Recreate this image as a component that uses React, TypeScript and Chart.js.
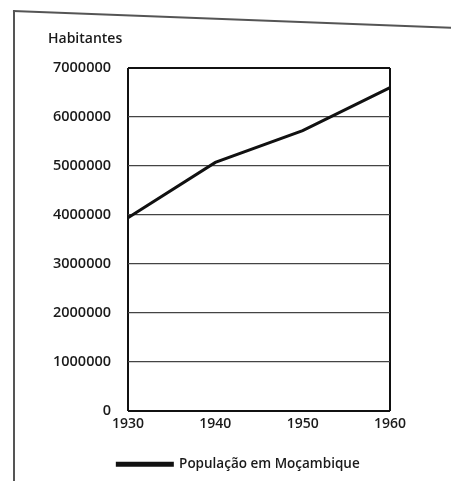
import React, { useEffect, useRef } from "react";
import { Chart, registerables } from "chart.js";

Chart.register(...registerables);

const years = ["1930", "1940", "1950", "1960"];
const population = [3940000, 5070000, 5720000, 6600000];
const yTicks = [0, 1000000, 2000000, 3000000, 4000000, 5000000, 6000000, 7000000];
const seriesLabel = "População em Moçambique";
const yTitle = "Habitantes";

export default function App() {
  const ref = useRef<HTMLCanvasElement>(null);

  useEffect(() => {
    document.body.style.margin = "0";
    const ctx = ref.current!;
    const font = "'Open Sans', sans-serif";
    const chart = new Chart(ctx, {
      type: "line",
      data: {
        labels: years,
        datasets: [
          {
            label: seriesLabel,
            data: population,
            borderColor: "#111",
            backgroundColor: "#111",
            borderWidth: 3,
            pointRadius: 0,
            tension: 0,
            yAxisID: "y",
          },
        ],
      },
      options: {
        animation: false,
        responsive: false,
        maintainAspectRatio: false,
        layout: { padding: { left: 48, right: 22, top: 0, bottom: 0 } },
        plugins: {
          tooltip: { enabled: false },
          title: {
            display: true,
            text: yTitle,
            align: "start",
            color: "#1a1a1a",
            font: { family: font, size: 14, weight: "600" },
            padding: { top: 31, bottom: 20.2 },
          },
          legend: {
            position: "bottom",
            labels: {
              color: "#1a1a1a",
              font: { family: font, size: 13.5, weight: "600" },
              boxWidth: 55,
              boxHeight: 2,
              padding: 12,
            },
          },
        },
        scales: {
          x: {
            offset: false,
            afterFit: (s: any) => {
              s.height = 35;
            },
            grid: {
              drawTicks: false,
              lineWidth: 2,
              color: (c: any) =>
                c.index === 0 || c.index === years.length - 1 ? "#111" : "rgba(0,0,0,0)",
            },
            border: { display: false },
            ticks: {
              color: "#1a1a1a",
              font: { family: font, size: 14, weight: "600" },
              padding: 5,
              maxRotation: 0,
            },
          },
          y: {
            min: 0,
            max: 7000000,
            afterFit: (s: any) => {
              s.width = 80;
            },
            afterBuildTicks: (s: any) => {
              s.ticks = yTicks.map((v) => ({ value: v }));
            },
            grid: {
              drawTicks: false,
              lineWidth: (c: any) => (c.index === 0 || c.index === yTicks.length - 1 ? 2 : 1.2),
              color: (c: any) =>
                c.index === 0 || c.index === yTicks.length - 1 ? "#111" : "#444",
            },
            border: { display: false },
            ticks: {
              color: "#1a1a1a",
              font: { family: font, size: 14.5, weight: "600" },
              padding: 17,
              callback: (v: any) => String(v),
            },
          },
          yRight: {
            position: "right",
            display: true,
            min: 0,
            max: 7000000,
            afterFit: (s: any) => {
              s.width = 39;
            },
            grid: { display: false, drawTicks: false },
            border: { display: false },
            ticks: { display: false },
          },
        },
      },
    });
    return () => chart.destroy();
  }, []);

  return (
    <div style={{ position: "fixed", left: 0, top: 0, width: 451, height: 481, background: "#fff", overflow: "hidden" }}>
      <div style={{ position: "absolute", left: 13, top: 10, width: 2, height: 471, background: "#555" }} />
      <div
        style={{
          position: "absolute",
          left: 13,
          top: 10,
          width: 445,
          height: 2,
          background: "#555",
          transformOrigin: "0 0",
          transform: "rotate(2.2deg)",
        }}
      />
      <canvas ref={ref} width={451} height={481} style={{ position: "absolute", left: 0, top: 0 }} />
    </div>
  );
}
